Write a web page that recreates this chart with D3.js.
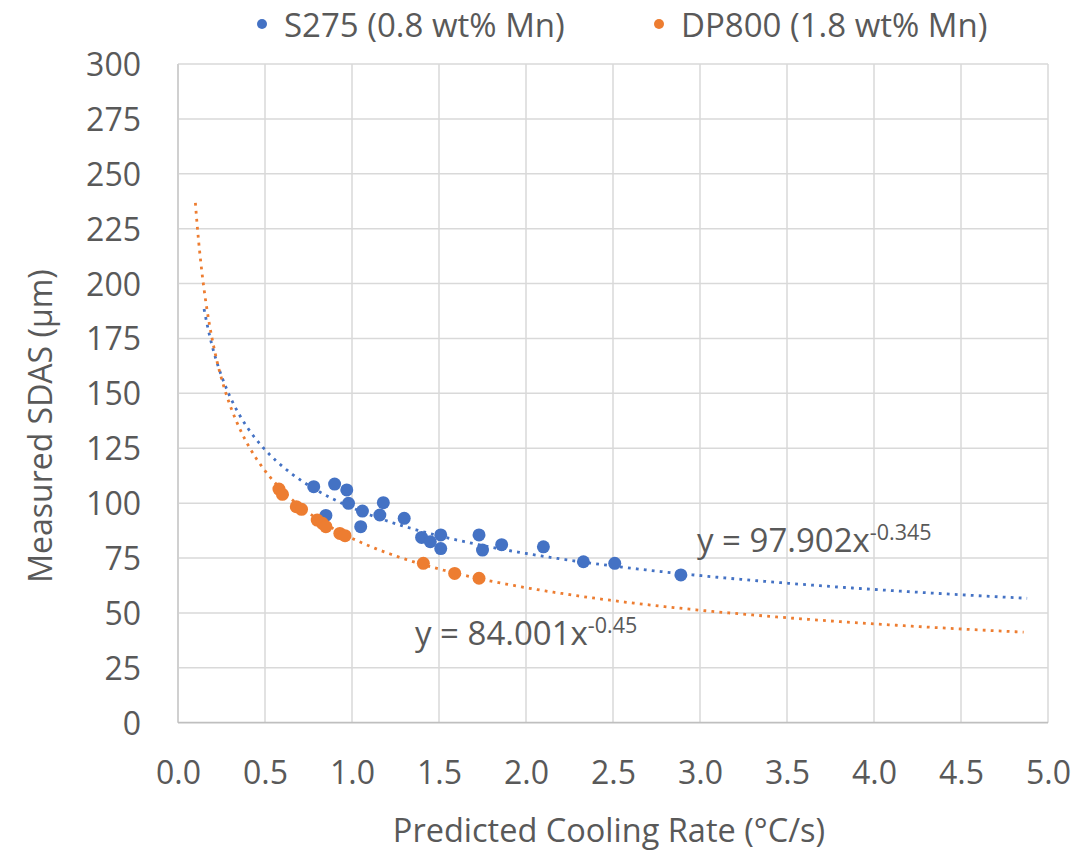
<!DOCTYPE html>
<html>
<head>
<meta charset="utf-8">
<script src="https://cdn.jsdelivr.net/npm/d3@7"></script>
<style>
  html, body { margin: 0; padding: 0; background: #ffffff; }
  svg { display: block; }
  text { font-family: "Open Sans", "Noto Sans", sans-serif; fill: #595959; }
</style>
</head>
<body>
<svg id="chart" width="1084" height="852"></svg>
<script>
// Measured SDAS against predicted cooling rate for two steel grades
const seriesNames = ["S275 (0.8 wt% Mn)", "DP800 (1.8 wt% Mn)"];
const seriesColors = ["#4472C4", "#ED7D31"];

// S275 samples: cooling rate (°C/s), SDAS (µm)
const s275Rate = [0.78, 0.90, 0.97, 0.98, 0.85, 1.06, 1.05, 1.16, 1.18, 1.30,
                  1.40, 1.45, 1.51, 1.51, 1.73, 1.75, 1.86, 2.10, 2.33, 2.51, 2.89];
const s275Sdas = [107.5, 108.7, 106.0, 99.9, 94.4, 96.4, 89.3, 94.6, 100.2, 93.1,
                  84.4, 82.4, 85.5, 79.3, 85.5, 78.6, 81.1, 80.1, 73.3, 72.6, 67.3];

// DP800 samples
const dp800Rate = [0.58, 0.60, 0.68, 0.71, 0.80, 0.83, 0.85, 0.93, 0.96, 1.41, 1.59, 1.73];
const dp800Sdas = [106.4, 104.0, 98.4, 97.2, 92.3, 90.8, 89.3, 86.2, 85.2, 72.6, 68.0, 65.8];

// Power-law fits y = a·x^b with the span each fit line covers
const fitCoef = [97.902, 84.001];
const fitExp = [-0.345, -0.45];
const fitSpan = [[0.15, 4.88], [0.10, 4.86]];
const fitLabels = [["y = 97.902x", "-0.345"], ["y = 84.001x", "-0.45"]];

const xTicks = [0, 0.5, 1, 1.5, 2, 2.5, 3, 3.5, 4, 4.5, 5];
const yTicks = [0, 25, 50, 75, 100, 125, 150, 175, 200, 225, 250, 275, 300];

const xTitle = "Predicted Cooling Rate (°C/s)";
const yTitle = "Measured SDAS (μm)";

const svg = d3.select("#chart");
const plot = { left: 178, right: 1048, top: 64, bottom: 722.7 };

const x = d3.scaleLinear().domain([0, 5]).range([plot.left, plot.right]);
const y = d3.scaleLinear().domain([0, 300]).range([plot.bottom, plot.top]);

// Gridlines
const grid = svg.append("g");
grid.selectAll("line.h").data(yTicks.filter(d => d > 0)).join("line")
  .attr("x1", plot.left).attr("x2", plot.right)
  .attr("y1", d => y(d)).attr("y2", d => y(d))
  .attr("stroke", "#D9D9D9").attr("stroke-width", 1.5);
grid.selectAll("line.v").data(xTicks.filter(d => d > 0)).join("line")
  .attr("y1", plot.top).attr("y2", plot.bottom)
  .attr("x1", d => x(d)).attr("x2", d => x(d))
  .attr("stroke", "#D9D9D9").attr("stroke-width", 1.5);

// Axis lines
svg.append("line")
  .attr("x1", x(0)).attr("x2", x(0)).attr("y1", plot.top).attr("y2", plot.bottom)
  .attr("stroke", "#D0D0D0").attr("stroke-width", 2);
svg.append("line")
  .attr("x1", plot.left).attr("x2", plot.right).attr("y1", y(0)).attr("y2", y(0))
  .attr("stroke", "#BFBFBF").attr("stroke-width", 1.75);

// Tick labels
const xAxis = d3.axisBottom(x).tickValues(xTicks).tickFormat(d3.format(".1f")).tickSize(0).tickPadding(0);
const gx = svg.append("g").attr("transform", `translate(0,${y(0)})`).call(xAxis);
gx.select(".domain").remove();
gx.selectAll("text").attr("font-size", 32).attr("fill", "#595959")
  .attr("dy", null).attr("y", 61).style("font-family", "'Open Sans', sans-serif");

const yAxis = d3.axisLeft(y).tickValues(yTicks).tickFormat(d3.format("d")).tickSize(0).tickPadding(0);
const gy = svg.append("g").attr("transform", `translate(141,0)`).call(yAxis);
gy.select(".domain").remove();
gy.selectAll("text").attr("font-size", 32).attr("fill", "#595959")
  .attr("dy", "0.36em").attr("x", 0).style("font-family", "'Open Sans', sans-serif");

// Axis titles
svg.append("text")
  .attr("x", 609).attr("y", 842)
  .attr("text-anchor", "middle").attr("font-size", 32.5)
  .text(xTitle);
svg.append("text")
  .attr("transform", "translate(52,426) rotate(-90)")
  .attr("text-anchor", "middle").attr("font-size", 32)
  .text(yTitle);

// Fitted power-law curves, dotted
const fitLine = d3.line().x(d => x(d[0])).y(d => y(d[1]));
fitCoef.forEach((a, i) => {
  const [x0, x1] = fitSpan[i];
  const pts = d3.range(0, 401).map(k => {
    const t = k / 400;
    // denser sampling near the steep low-rate end
    const xv = x0 + (x1 - x0) * t * t;
    return [xv, a * Math.pow(xv, fitExp[i])];
  });
  svg.append("path").datum(pts)
    .attr("d", fitLine).attr("fill", "none")
    .attr("stroke", seriesColors[i]).attr("stroke-width", 2.8)
    .attr("stroke-dasharray", "2.8 5.2");
});

// Sample markers
const series = [
  s275Rate.map((r, i) => [r, s275Sdas[i]]),
  dp800Rate.map((r, i) => [r, dp800Sdas[i]])
];
series.forEach((pts, i) => {
  svg.append("g").selectAll("circle").data(pts).join("circle")
    .attr("cx", d => x(d[0])).attr("cy", d => y(d[1])).attr("r", 6.5)
    .attr("fill", seriesColors[i]);
});

// Fit equations
const eqPos = [[697, 552], [415, 645]];
fitLabels.forEach((lab, i) => {
  const t = svg.append("text").attr("x", eqPos[i][0]).attr("y", eqPos[i][1]).attr("font-size", 33);
  t.append("tspan").text(lab[0]);
  t.append("tspan").attr("font-size", 21.5).attr("dy", -12).text(lab[1]);
});

// Legend
const legendPos = [[262, 284], [659, 681]];
seriesNames.forEach((name, i) => {
  svg.append("circle").attr("cx", legendPos[i][0]).attr("cy", 24).attr("r", 5)
    .attr("fill", seriesColors[i]);
  svg.append("text").attr("x", legendPos[i][1]).attr("y", 36.5).attr("font-size", 33)
    .text(name);
});
</script>
</body>
</html>
